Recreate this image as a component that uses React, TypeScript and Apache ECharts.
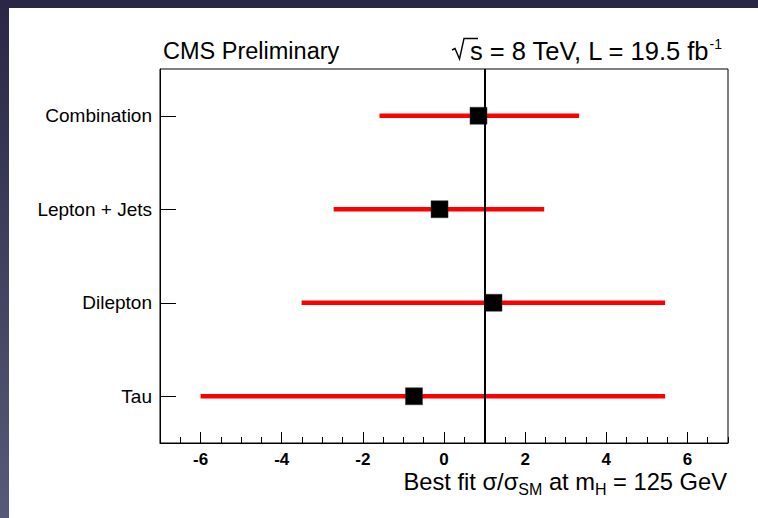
import React, { useEffect, useRef } from "react";
import * as echarts from "echarts";

const categories = ["Combination", "Lepton + Jets", "Dilepton", "Tau"];
const bestFit = [0.85, -0.11, 1.22, -0.74];
const lowerEdge = [-1.59, -2.72, -3.51, -6.0];
const upperEdge = [3.33, 2.47, 5.45, 5.45];
const smValue = 1;
const majorTicks = [-6, -4, -2, 0, 2, 4, 6];
const xMin = -7;
const xMax = 7;

const FONT = "'Liberation Sans', Arial, Helvetica, sans-serif";

export default function App() {
  const ref = useRef<HTMLDivElement>(null);

  useEffect(() => {
    if (!ref.current) return;
    const chart = echarts.init(ref.current, null, { renderer: "svg" });

    const errData = categories.map((c, i) => [lowerEdge[i], upperEdge[i], i]);
    const ptData = categories.map((c, i) => [bestFit[i], c]);

    chart.setOption({
      animation: false,
      backgroundColor: "#ffffff",
      grid: {
        left: 160,
        right: 30,
        top: 69,
        bottom: 75,
        show: true,
        borderColor: "#000",
        borderWidth: 1,
        backgroundColor: "transparent",
        containLabel: false,
      },
      xAxis: [
        {
          type: "value",
          min: xMin,
          max: xMax,
          interval: 0.5,
          position: "bottom",
          axisLine: { show: true, onZero: false, lineStyle: { color: "#000", width: 1 } },
          axisTick: { show: true, inside: true, length: 6, lineStyle: { color: "#000", width: 1 } },
          axisLabel: { show: false },
          splitLine: { show: false },
        },
        {
          type: "value",
          min: xMin,
          max: xMax,
          position: "bottom",
          axisLine: { show: false, onZero: false },
          axisTick: {
            show: true,
            inside: true,
            length: 11,
            customValues: majorTicks,
            lineStyle: { color: "#000", width: 1 },
          },
          axisLabel: {
            show: true,
            customValues: majorTicks,
            color: "#000",
            fontSize: 17,
            fontWeight: "bold",
            fontFamily: FONT,
            margin: 8,
          },
          splitLine: { show: false },
        },
      ],
      yAxis: {
        type: "category",
        data: categories,
        inverse: true,
        boundaryGap: true,
        axisLine: { show: true, onZero: false, lineStyle: { color: "#000", width: 1 } },
        axisTick: { show: true, inside: true, length: 16, alignWithLabel: true, lineStyle: { color: "#000", width: 1 } },
        axisLabel: { color: "#000", fontSize: 19, fontFamily: FONT, margin: 8 },
        splitLine: { show: false },
      },
      graphic: [
        { type: "rect", shape: { x: 0, y: 0, width: 758, height: 8 }, style: { fill: "#2a2646" }, silent: true },
        {
          type: "rect",
          shape: { x: 0, y: 0, width: 9, height: 518 },
          style: {
            fill: new echarts.graphic.LinearGradient(0, 0, 0, 1, [
              { offset: 0, color: "#2a2646" },
              { offset: 1, color: "#565a78" },
            ]),
          },
          silent: true,
        },
        {
          type: "text",
          x: 163,
          y: 51,
          style: {
            text: "CMS Preliminary",
            fontSize: 23.5,
            fontFamily: FONT,
            fill: "#000",
            textAlign: "left",
            textVerticalAlign: "middle",
          },
        },
        {
          type: "text",
          x: 722,
          y: 51,
          style: {
            text: "{m|s = 8 TeV, L = 19.5 fb}{sup|-1}",
            fill: "#000",
            textAlign: "right",
            textVerticalAlign: "middle",
            rich: {
              m: { fontSize: 25.5, fontFamily: FONT, fill: "#000" },
              sup: { fontSize: 14, fontFamily: FONT, fill: "#000", padding: [0, 0, 14, 1] },
            },
          },
        },
        {
          type: "polyline",
          shape: { points: [[452, 50], [455, 48.5], [459.5, 59], [464, 38.5], [478, 38.5]] },
          style: { stroke: "#000", lineWidth: 1.4, fill: "none" },
          silent: true,
        },
        {
          type: "text",
          x: 727,
          y: 482,
          style: {
            text: "{m|Best fit σ/σ}{sub|SM}{m| at m}{sub|H}{m| = 125 GeV}",
            fill: "#000",
            textAlign: "right",
            textVerticalAlign: "middle",
            rich: {
              m: { fontSize: 23.7, fontFamily: FONT, fill: "#000" },
              sub: { fontSize: 16, fontFamily: FONT, fill: "#000", padding: [14, 0, 0, 0] },
            },
          },
        },
      ],
      series: [
        {
          type: "custom",
          xAxisIndex: 0,
          z: 3,
          data: errData,
          encode: { x: [0, 1], y: 2 },
          renderItem: (params: any, api: any) => {
            const lo = api.value(0);
            const hi = api.value(1);
            const ci = api.value(2);
            const p1 = api.coord([lo, ci]);
            const p2 = api.coord([hi, ci]);
            return {
              type: "line",
              shape: { x1: p1[0], y1: p1[1], x2: p2[0], y2: p2[1] },
              style: { stroke: "#ff0000", lineWidth: 4.5, lineCap: "butt" },
            };
          },
          silent: true,
        },
        {
          type: "scatter",
          xAxisIndex: 0,
          z: 2,
          data: [],
          markLine: {
            silent: true,
            symbol: ["none", "none"],
            label: { show: false },
            lineStyle: { color: "#000", width: 2, type: "solid" },
            data: [{ xAxis: smValue }],
          },
        },
        {
          type: "scatter",
          xAxisIndex: 0,
          z: 4,
          symbol: "rect",
          symbolSize: 17,
          data: ptData,
          itemStyle: { color: "#000", borderColor: "#333", borderWidth: 0.5, opacity: 1 },
          silent: true,
        },
      ],
    });

    return () => chart.dispose();
  }, []);

  return (
    <div
      ref={ref}
      style={{ position: "fixed", left: 0, top: 0, width: 758, height: 518, background: "#fff" }}
    />
  );
}
